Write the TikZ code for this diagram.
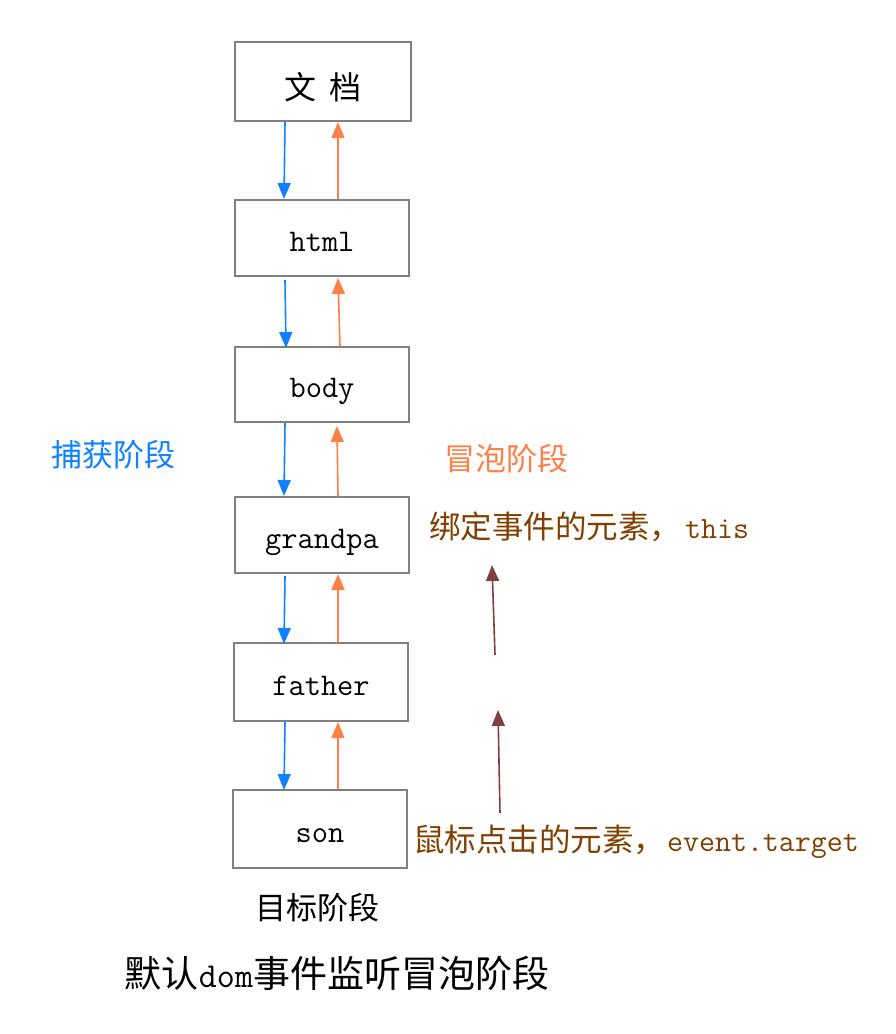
\documentclass[tikz,border=0pt]{standalone}
\usepackage{fontspec}
\newfontfamily\cjk{Noto Sans CJK SC}
\usetikzlibrary{arrows.meta,calc}
\definecolor{capblue}{RGB}{16,130,255}
\definecolor{bubor}{RGB}{255,128,70}
\definecolor{brtext}{RGB}{128,64,0}
\definecolor{darkarr}{RGB}{128,64,64}
\definecolor{boxgray}{RGB}{128,128,128}
\newcommand{\boxtxt}[2]{\raisebox{#1}[0pt][0pt]{#2}}
\begin{document}
\begin{tikzpicture}[x=1pt,y=-1pt,
  elem/.style={draw=boxgray,line width=2pt,minimum width=174pt,inner sep=0pt,
    font=\ttfamily\fontsize{31.5pt}{36pt}\selectfont},
  caparr/.style={draw=capblue,line width=1.6pt,-{Triangle[width=13pt,length=16pt]}},
  bubarr/.style={draw=bubor,line width=1.6pt,-{Triangle[width=13pt,length=16pt]}},
  redarr/.style={draw=darkarr,line width=1.6pt,-{Triangle[width=13pt,length=16pt]}},
  lab/.style={inner sep=0pt,font=\cjk\fontsize{31pt}{36pt}\selectfont}]
\useasboundingbox (0,0) rectangle (896,1034);
\fill[white] (0,0) rectangle (896,1034);

\node[elem,minimum width=176pt,minimum height=79pt] (doc) at (323,81.5) {\cjk\fontsize{32pt}{36pt}\selectfont\boxtxt{-18pt}{文\hspace{0.4em}档}};
\node[elem,minimum height=76pt] (html) at (322,238) {\boxtxt{-13pt}{html}};
\node[elem,minimum height=75pt] (body) at (322,384.5) {\boxtxt{-13pt}{body}};
\node[elem,minimum height=76pt] (gp) at (322,535) {\boxtxt{-13pt}{grandpa}};
\node[elem,minimum height=78pt] (fa) at (321,682) {\boxtxt{-13pt}{father}};
\node[elem,minimum height=78pt] (son) at (320,829) {\boxtxt{-13pt}{son}};

% capture (blue) arrows
\draw[caparr] ($(doc.south)+(-38,0)$) -- ($(html.north)+(-38,0)$);
\draw[caparr] ($(html.south)+(-37,3)$) -- ($(body.north)+(-36,2)$);
\draw[caparr] ($(body.south)+(-37,0)$) -- ($(gp.north)+(-38,0)$);
\draw[caparr] ($(gp.south)+(-37,2)$) -- ($(fa.north)+(-37,2)$);
\draw[caparr] ($(fa.south)+(-36,0)$) -- ($(son.north)+(-36,1)$);

% bubble (orange) arrows
\draw[bubarr] ($(html.north)+(16,0)$) -- ($(doc.south)+(15,0)$);
\draw[bubarr] ($(body.north)+(18,0)$) -- ($(html.south)+(16,1)$);
\draw[bubarr] ($(gp.north)+(16,0)$) -- ($(body.south)+(15,3)$);
\draw[bubarr] ($(fa.north)+(17,0)$) -- ($(gp.south)+(16,0)$);
\draw[bubarr] ($(son.north)+(18,0)$) -- ($(fa.south)+(17,0)$);

\node[lab,text=capblue] (cap) at (113,455) {捕获阶段};
\node[lab,text=bubor] (bub) at (506,459) {冒泡阶段};
\node[lab,text=brtext,anchor=west,font=\cjk\fontsize{31.5pt}{36pt}\selectfont] (this) at (429,527) {绑定事件的元素，\hspace{4pt}{\ttfamily\fontsize{31pt}{36pt}\selectfont this}};
\node[lab,text=brtext,anchor=west,font=\cjk\fontsize{31.5pt}{36pt}\selectfont] (tgt) at (413,842) {鼠标点击的元素，\hspace{2pt}{\ttfamily\fontsize{31pt}{36pt}\selectfont event.target}};
\node[lab] (goal) at (317,908) {目标阶段};
\node[inner sep=0pt,font=\cjk\fontsize{37pt}{40pt}\selectfont] (dflt) at (337,973) {默认{\ttfamily\fontsize{35pt}{40pt}\selectfont dom}事件监听冒泡阶段};

\coordinate (r1s) at (495,655);
\coordinate (r1e) at (492,565);
\coordinate (r2s) at (500,813);
\coordinate (r2e) at (498,710);
\draw[redarr] (r1s) -- (r1e);
\draw[redarr] (r2s) -- (r2e);
\end{tikzpicture}
\end{document}
